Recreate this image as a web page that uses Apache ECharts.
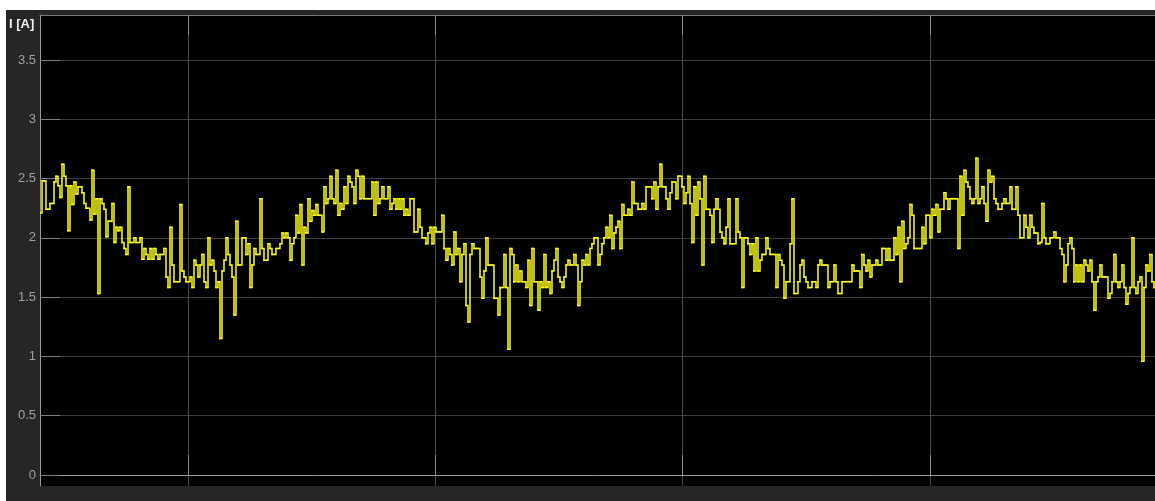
<!DOCTYPE html>
<html>
<head>
<meta charset="utf-8">
<script src="https://cdn.jsdelivr.net/npm/echarts@6/dist/echarts.min.js"></script>
<style>
html,body{margin:0;padding:0;background:#ffffff;width:1155px;height:501px;overflow:hidden;}
#chart{position:absolute;left:6px;top:10px;width:1149px;height:491px;}
</style>
</head>
<body>
<div id="chart"></div>
<script>
const currentA = [
2.21,2.48,2.48,2.24,2.24,2.29,2.29,2.47,2.52,2.44,
2.34,2.62,2.52,2.44,2.06,2.44,2.28,2.47,2.37,2.43,
2.43,2.38,2.29,2.25,2.25,2.15,2.57,2.20,2.33,1.53,
2.33,2.29,2.24,2.01,2.14,2.14,2.29,1.96,2.09,2.06,
2.09,1.96,1.91,1.86,2.43,1.96,1.96,2.00,1.96,1.96,
2.00,1.82,1.91,1.86,1.82,1.91,1.82,1.91,1.86,1.82,
1.86,1.86,1.91,1.67,1.58,2.09,1.77,1.63,1.63,1.63,
2.28,1.72,1.67,1.63,1.63,1.67,1.58,1.81,1.77,1.67,
1.77,1.86,1.63,1.58,2.00,1.77,1.81,1.72,1.58,1.63,
1.15,1.72,1.81,2.00,1.86,1.77,1.67,1.35,2.14,1.77
];
const currentB = [
1.77,2.00,2.00,1.86,1.95,1.58,1.77,1.91,1.86,1.86,
2.33,1.91,1.81,1.81,1.95,1.91,1.86,1.86,1.91,1.91,
1.95,2.04,2.00,2.04,2.00,1.81,1.95,2.00,2.19,2.04,
2.28,1.77,2.09,2.04,2.33,2.14,2.23,2.19,2.28,2.19,
2.19,2.05,2.43,2.29,2.33,2.52,2.33,2.29,2.57,2.19,
2.29,2.24,2.43,2.29,2.52,2.47,2.43,2.29,2.57,2.52,
2.33,2.52,2.33,2.33,2.33,2.33,2.47,2.19,2.47,2.29,
2.33,2.43,2.33,2.33,2.43,2.24,2.29,2.33,2.24,2.33,
2.24,2.33,2.19,2.24,2.19,2.33,2.33,2.05,2.05,2.24,
2.09,2.00,2.00,1.95,2.04,2.09,1.95,2.09,2.05,2.05
];
const currentC = [
2.05,2.19,1.91,1.81,1.91,1.86,1.77,2.05,1.86,1.91,
1.63,1.86,1.95,1.43,1.29,1.86,1.95,1.91,1.91,1.91,
1.67,1.49,1.72,2.00,1.77,1.77,1.77,1.49,1.49,1.35,
1.58,1.58,1.86,1.58,1.06,1.91,1.86,1.63,1.77,1.63,
1.72,1.63,1.63,1.58,1.81,1.43,1.91,1.63,1.63,1.39,
1.63,1.58,1.86,1.58,1.63,1.53,1.72,1.81,1.91,1.67,
1.63,1.58,1.67,1.77,1.81,1.77,1.77,1.86,1.77,1.43,
1.63,1.81,1.77,1.86,1.77,1.91,1.95,2.00,2.00,1.77,
1.86,1.95,2.00,2.09,2.00,2.19,1.91,2.04,2.09,2.14,
1.91,2.28,2.19,2.19,2.24,2.19,2.47,2.29,2.29,2.24
];
const currentD = [
2.24,2.29,2.24,2.43,2.43,2.43,2.33,2.47,2.24,2.43,
2.62,2.43,2.43,2.33,2.24,2.38,2.47,2.47,2.33,2.52,
2.52,2.43,2.29,2.38,2.52,2.29,1.96,2.43,2.19,2.47,
2.33,1.77,2.52,2.24,2.24,2.19,1.96,2.24,2.33,2.24,
2.05,2.00,1.95,2.09,2.33,1.95,1.95,1.95,2.33,2.05,
2.00,1.58,2.00,2.00,1.95,1.86,1.95,1.72,2.00,1.72,
1.81,1.86,1.86,2.00,1.91,1.86,1.86,1.86,1.58,1.86,
1.81,1.77,1.49,1.63,1.63,1.95,2.33,1.53,1.53,1.63,
1.77,1.81,1.67,1.63,1.58,1.58,1.63,1.63,1.58,1.77,
1.81,1.77,1.77,1.77,1.58,1.63,1.63,1.77,1.63,1.53
];
const currentE = [
1.53,1.63,1.63,1.63,1.63,1.63,1.77,1.72,1.72,1.72,
1.58,1.86,1.77,1.72,1.81,1.67,1.77,1.77,1.81,1.77,
1.77,1.91,1.91,1.81,1.91,1.81,1.81,2.00,1.86,2.09,
1.63,2.14,1.91,1.95,2.00,2.28,2.19,1.91,1.91,1.91,
1.91,2.09,1.95,2.19,2.19,2.00,2.24,2.19,2.28,2.05,
2.24,2.24,2.38,2.33,2.24,2.33,2.33,2.33,2.33,1.91,
2.52,2.19,2.57,2.47,2.43,2.33,2.29,2.33,2.67,2.29,
2.33,2.43,2.29,2.14,2.57,2.47,2.52,2.33,2.29,2.24,
2.24,2.29,2.33,2.29,2.29,2.43,2.24,2.24,2.43,2.19,
2.00,2.00,2.19,2.09,2.00,2.19,2.09,2.04,2.04,1.95
];
const currentF = [
1.96,2.29,2.00,1.95,1.95,2.00,2.00,2.05,2.00,2.00,
1.91,1.86,1.63,1.77,1.95,2.00,1.91,1.63,1.77,1.63,
1.77,1.63,1.81,1.77,1.72,1.81,1.63,1.39,1.63,1.67,
1.77,1.67,1.67,1.67,1.49,1.53,1.63,1.86,1.63,1.58,
1.63,1.77,1.58,1.44,1.53,1.58,2.00,1.58,1.53,1.63,
1.67,0.96,1.58,1.77,1.72,1.86,1.63,1.58
];

const yTicks = [0, 0.5, 1, 1.5, 2, 2.5, 3, 3.5];
const timeTicks = [1, 2, 3, 4];          // s, vertical grid divisions
const tStart = 0.4;                       // s, left edge of the window
const sampleTime = 1 / 123.6;             // s
const windowLength = 557.5 * sampleTime;  // s
const yMin = -0.093, yMax = 3.879;

const current = [].concat(currentA, currentB, currentC, currentD, currentE, currentF);
// zero-order hold samples: [t_i, I_i, t_(i+1), I_(i+1)]
const holdData = current.map((v, i) => [
  tStart + i * sampleTime, v,
  tStart + (i + 1) * sampleTime, i + 1 < current.length ? current[i + 1] : v
]);

const LINE_COLOR = '#ffff14';

function renderHold(params, api) {
  const t0 = api.value(0), v0 = api.value(1), t1 = api.value(2), v1 = api.value(3);
  const a = api.coord([t0, v0]);
  const b = api.coord([t1, v0]);
  const c = api.coord([t1, v1]);
  return {
    type: 'polyline',
    silent: true,
    shape: {points: [a, b, c]},
    style: {stroke: LINE_COLOR, lineWidth: 1.5, fill: 'none', lineCap: 'square', lineJoin: 'miter'}
  };
}

const chart = echarts.init(document.getElementById('chart'), null, {renderer: 'canvas'});
chart.setOption({
  animation: false,
  backgroundColor: '#262626',
  grid: {
    left: 34, top: 5, right: 0, bottom: 15,
    show: true, backgroundColor: '#000000', borderWidth: 0
  },
  graphic: [{
    type: 'text', left: 3, top: 8,
    style: {text: 'I [A]', fill: '#f0f0f0', font: 'bold 13px "Liberation Sans", Arial, sans-serif'}
  }],
  xAxis: [{
    type: 'value', position: 'bottom',
    min: tStart, max: tStart + windowLength,
    axisLine: {show: true, lineStyle: {color: '#9a9a9a', width: 1}},
    axisTick: {show: true, inside: true, length: 20, customValues: timeTicks, lineStyle: {color: '#8c8c8c'}},
    axisLabel: {show: false},
    splitLine: {show: true, lineStyle: {color: '#4a4a4a', width: 1}}
  }, {
    type: 'value', position: 'top',
    min: tStart, max: tStart + windowLength,
    axisLine: {show: true, lineStyle: {color: '#777777', width: 1}},
    axisTick: {show: true, inside: true, length: 20, customValues: timeTicks, lineStyle: {color: '#8c8c8c'}},
    axisLabel: {show: false},
    splitLine: {show: false}
  }],
  yAxis: {
    type: 'value', min: yMin, max: yMax,
    axisLine: {show: true, lineStyle: {color: '#9a9a9a', width: 1}},
    axisTick: {show: true, inside: true, length: 20, customValues: yTicks, lineStyle: {color: '#808080'}},
    axisLabel: {
      customValues: yTicks, color: '#a0a0a0', margin: 4,
      fontSize: 13, fontFamily: '"Liberation Sans", Arial, sans-serif'
    },
    splitLine: {show: true, lineStyle: {color: '#3e3e3e', width: 1}}
  },
  series: [{
    type: 'custom', name: 'I', xAxisIndex: 0, yAxisIndex: 0,
    data: holdData,
    encode: {x: [0, 2], y: [1, 3]},
    renderItem: renderHold,
    clip: true, progressive: 0
  }]
});
</script>
</body>
</html>
